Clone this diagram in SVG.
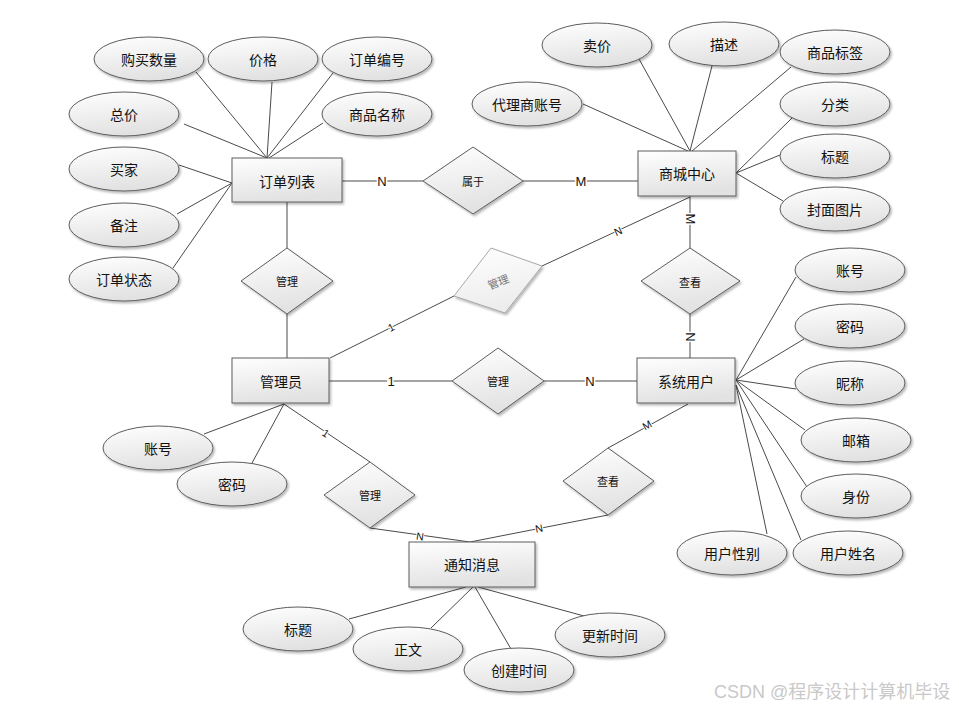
<svg xmlns="http://www.w3.org/2000/svg" width="959" height="708" viewBox="0 0 959 708">
<defs>
<linearGradient id="g" x1="0" y1="0" x2="0.25" y2="1">
<stop offset="0" stop-color="#ffffff"/>
<stop offset="1" stop-color="#e2e2e2"/>
</linearGradient>
<linearGradient id="gf" x1="0" y1="0" x2="0.25" y2="1">
<stop offset="0" stop-color="#ffffff"/>
<stop offset="1" stop-color="#ececec"/>
</linearGradient>
<filter id="sh" x="-20%" y="-20%" width="140%" height="150%">
<feDropShadow dx="1.5" dy="2" stdDeviation="1.2" flood-color="#000" flood-opacity="0.28"/>
</filter>
<style>
.n rect,.n ellipse,.n polygon{fill:url(#g);stroke:#5c5c5c;stroke-width:1;filter:url(#sh)}
.n.faded polygon{fill:url(#gf);stroke:#a8a8a8}
.t{font-family:"Noto Sans CJK SC","Liberation Sans",sans-serif;font-size:14px;fill:#111;text-anchor:middle;dominant-baseline:central}
.d{font-size:11px}
.c line{stroke:#4a4a4a;stroke-width:1}
.l{font-family:"Liberation Sans",Arial,sans-serif;font-size:13px;fill:#111;text-anchor:middle;dominant-baseline:central;stroke:#fff;stroke-width:3;paint-order:stroke}
.s{font-size:10.5px;stroke-width:2}
.wm{font-family:"Liberation Sans","Noto Sans CJK SC",sans-serif;font-size:18px;fill:#c9c9c9}
</style>
</defs>
<rect x="0" y="0" width="959" height="708" fill="#ffffff"/>
<g id="connectors" class="c">
<line x1="196" y1="72" x2="267" y2="158"/>
<line x1="272" y1="82" x2="267" y2="158"/>
<line x1="333" y1="73" x2="267" y2="158"/>
<line x1="323" y1="123" x2="269" y2="158"/>
<line x1="184" y1="124" x2="267" y2="158"/>
<line x1="179" y1="165" x2="232" y2="183"/>
<line x1="177" y1="214" x2="232" y2="183"/>
<line x1="173" y1="268" x2="232" y2="183"/>
<line x1="287" y1="202" x2="287" y2="248"/>
<line x1="287" y1="314" x2="287" y2="358"/>
<line x1="342" y1="181" x2="423" y2="181"/>
<line x1="523" y1="181" x2="638" y2="181"/>
<line x1="639" y1="59" x2="690" y2="151"/>
<line x1="712" y1="66" x2="690" y2="151"/>
<line x1="791" y1="67" x2="692" y2="151"/>
<line x1="583" y1="104" x2="688" y2="151"/>
<line x1="792" y1="118" x2="736" y2="173"/>
<line x1="780" y1="155" x2="736" y2="173"/>
<line x1="783" y1="201" x2="736" y2="173"/>
<line x1="690" y1="196" x2="690" y2="248"/>
<line x1="690" y1="314" x2="690" y2="358"/>
<line x1="690" y1="197" x2="542" y2="266"/>
<line x1="454" y1="296" x2="330" y2="358"/>
<line x1="329" y1="381" x2="452" y2="381"/>
<line x1="544" y1="381" x2="637" y2="381"/>
<line x1="284" y1="404" x2="204" y2="434"/>
<line x1="284" y1="404" x2="252" y2="463"/>
<line x1="284" y1="404" x2="370" y2="462"/>
<line x1="370" y1="528" x2="470" y2="542"/>
<line x1="608" y1="515" x2="470" y2="542"/>
<line x1="608" y1="448" x2="688" y2="404"/>
<line x1="466" y1="587" x2="349" y2="619"/>
<line x1="473" y1="587" x2="431" y2="628"/>
<line x1="475" y1="587" x2="511" y2="649"/>
<line x1="478" y1="587" x2="584" y2="616"/>
<line x1="736" y1="380" x2="796" y2="277"/>
<line x1="736" y1="380" x2="804" y2="339"/>
<line x1="736" y1="380" x2="796" y2="389"/>
<line x1="736" y1="380" x2="805" y2="430"/>
<line x1="736" y1="380" x2="807" y2="487"/>
<line x1="736" y1="385" x2="767" y2="534"/>
<line x1="736" y1="385" x2="801" y2="540"/>
<text class="l" x="382" y="181">N</text>
<text class="l" x="581" y="181">M</text>
<text class="l" transform="translate(690 219) rotate(90)">M</text>
<text class="l" transform="translate(690 337) rotate(90)">N</text>
<text class="l s" transform="translate(618 231) rotate(-25)">N</text>
<text class="l s" transform="translate(391 327) rotate(-27)">1</text>
<text class="l" x="391" y="381">1</text>
<text class="l" x="590" y="381">N</text>
<text class="l s" transform="translate(326 433) rotate(34)">1</text>
<text class="l s" transform="translate(420 536) rotate(8)">N</text>
<text class="l s" transform="translate(539 528) rotate(-11)">N</text>
<text class="l s" transform="translate(647 425) rotate(-29)">M</text>
</g>
<g id="e_order" class="n"><rect x="232" y="158" width="110" height="44"/><text class="t" x="287" y="181">订单列表</text></g>
<g id="e_mall" class="n"><rect x="638" y="151" width="98" height="45"/><text class="t" x="687" y="173">商城中心</text></g>
<g id="e_admin" class="n"><rect x="232" y="358" width="97" height="45"/><text class="t" x="281" y="381">管理员</text></g>
<g id="e_user" class="n"><rect x="637" y="358" width="98" height="45"/><text class="t" x="686" y="381">系统用户</text></g>
<g id="e_notice" class="n"><rect x="409" y="542" width="126" height="45"/><text class="t" x="472" y="564">通知消息</text></g>
<g id="r_belong" class="n"><polygon points="473,147 523,181 473,214 423,181"/><text class="t d" x="473" y="181">属于</text></g>
<g id="r_manage1" class="n"><polygon points="287,248 333,281 287,314 241,281"/><text class="t d" x="287" y="281">管理</text></g>
<g id="r_manage_faded" class="n faded"><polygon points="491,248 542,266 505,313 454,296"/><text class="t d" style="fill:#777" transform="translate(498 281) rotate(-22)">管理</text></g>
<g id="r_manage2" class="n"><polygon points="498,348 544,381 498,414 452,381"/><text class="t d" x="498" y="381">管理</text></g>
<g id="r_view1" class="n"><polygon points="690,248 740,281 690,314 641,281"/><text class="t d" x="690" y="282">查看</text></g>
<g id="r_manage3" class="n"><polygon points="370,462 415,495 370,528 324,495"/><text class="t d" x="370" y="495">管理</text></g>
<g id="r_view2" class="n"><polygon points="608,448 654,481 608,515 563,481"/><text class="t d" x="608" y="481">查看</text></g>
<g id="a_qty" class="n"><ellipse cx="149" cy="59" rx="55" ry="22"/><text class="t" x="149" y="59">购买数量</text></g>
<g id="a_price" class="n"><ellipse cx="263" cy="59" rx="55" ry="22"/><text class="t" x="263" y="59">价格</text></g>
<g id="a_orderno" class="n"><ellipse cx="377" cy="59" rx="55" ry="22"/><text class="t" x="377" y="59">订单编号</text></g>
<g id="a_total" class="n"><ellipse cx="124" cy="114" rx="55" ry="22"/><text class="t" x="124" y="114">总价</text></g>
<g id="a_goodsname" class="n"><ellipse cx="377" cy="114" rx="55" ry="22"/><text class="t" x="377" y="114">商品名称</text></g>
<g id="a_buyer" class="n"><ellipse cx="124" cy="169" rx="55" ry="22"/><text class="t" x="124" y="169">买家</text></g>
<g id="a_remark" class="n"><ellipse cx="124" cy="225" rx="55" ry="22"/><text class="t" x="124" y="225">备注</text></g>
<g id="a_status" class="n"><ellipse cx="124" cy="279" rx="55" ry="22"/><text class="t" x="124" y="279">订单状态</text></g>
<g id="a_sellprice" class="n"><ellipse cx="597" cy="45" rx="55" ry="22"/><text class="t" x="597" y="45">卖价</text></g>
<g id="a_desc" class="n"><ellipse cx="724" cy="44" rx="55" ry="22"/><text class="t" x="724" y="44">描述</text></g>
<g id="a_tag" class="n"><ellipse cx="835" cy="52" rx="55" ry="22"/><text class="t" x="835" y="52">商品标签</text></g>
<g id="a_agent" class="n"><ellipse cx="527" cy="104" rx="55" ry="22"/><text class="t" x="527" y="104">代理商账号</text></g>
<g id="a_category" class="n"><ellipse cx="835" cy="104" rx="55" ry="22"/><text class="t" x="835" y="104">分类</text></g>
<g id="a_title1" class="n"><ellipse cx="835" cy="156" rx="55" ry="22"/><text class="t" x="835" y="156">标题</text></g>
<g id="a_cover" class="n"><ellipse cx="835" cy="209" rx="55" ry="22"/><text class="t" x="835" y="209">封面图片</text></g>
<g id="a_admin_acc" class="n"><ellipse cx="158" cy="448" rx="55" ry="22"/><text class="t" x="158" y="448">账号</text></g>
<g id="a_admin_pwd" class="n"><ellipse cx="232" cy="484" rx="55" ry="22"/><text class="t" x="232" y="484">密码</text></g>
<g id="a_title2" class="n"><ellipse cx="298" cy="629" rx="55" ry="22"/><text class="t" x="298" y="629">标题</text></g>
<g id="a_body" class="n"><ellipse cx="408" cy="649" rx="55" ry="22"/><text class="t" x="408" y="649">正文</text></g>
<g id="a_ctime" class="n"><ellipse cx="519" cy="670" rx="55" ry="22"/><text class="t" x="519" y="670">创建时间</text></g>
<g id="a_utime" class="n"><ellipse cx="610" cy="635" rx="55" ry="22"/><text class="t" x="610" y="635">更新时间</text></g>
<g id="a_user_acc" class="n"><ellipse cx="850" cy="270" rx="55" ry="22"/><text class="t" x="850" y="270">账号</text></g>
<g id="a_user_pwd" class="n"><ellipse cx="850" cy="326" rx="55" ry="22"/><text class="t" x="850" y="326">密码</text></g>
<g id="a_nick" class="n"><ellipse cx="850" cy="383" rx="55" ry="22"/><text class="t" x="850" y="383">昵称</text></g>
<g id="a_email" class="n"><ellipse cx="856" cy="440" rx="55" ry="22"/><text class="t" x="856" y="440">邮箱</text></g>
<g id="a_role" class="n"><ellipse cx="856" cy="496" rx="55" ry="22"/><text class="t" x="856" y="496">身份</text></g>
<g id="a_gender" class="n"><ellipse cx="732" cy="553" rx="55" ry="22"/><text class="t" x="732" y="553">用户性别</text></g>
<g id="a_uname" class="n"><ellipse cx="848" cy="553" rx="55" ry="22"/><text class="t" x="848" y="553">用户姓名</text></g>
<text class="wm" x="714" y="698">CSDN @程序设计计算机毕设</text>
</svg>
